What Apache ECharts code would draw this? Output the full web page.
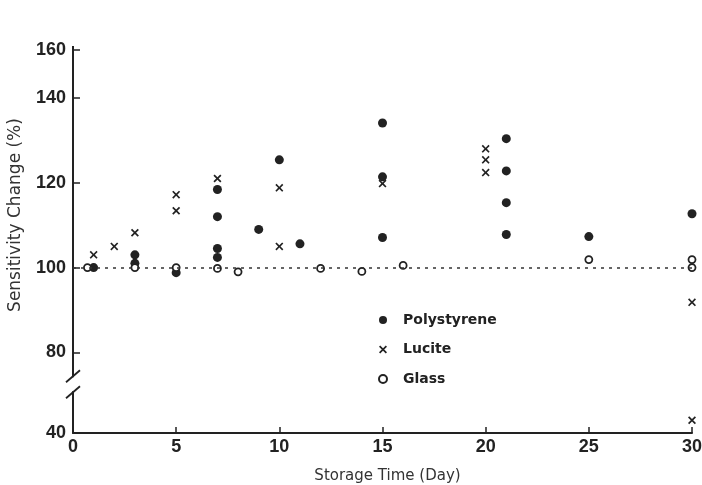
<!DOCTYPE html>
<html><head><meta charset="utf-8">
<script src="https://cdn.jsdelivr.net/npm/echarts@6/dist/echarts.min.js"></script>
<style>html,body{margin:0;padding:0;background:#fff}#c{width:702px;height:485px}</style>
</head><body><div id="c"></div>
<script>
const xTicks = [0, 5, 10, 15, 20, 25, 30];
const yTicks = [40, 80, 100, 120, 140, 160];
const polystyrene = [[1,100],[3,103],[3,101],[5,98.8],[7,118.4],[7,112],[7,104.5],[7,102.4],[9,109],[10,125.4],[11,105.6],[15,134.1],[15,121.4],[15,107.1],[21,130.4],[21,122.8],[21,115.3],[21,107.8],[25,107.3],[30,112.7]];
const lucite = [[1,103],[2,105],[3,108.2],[5,117.2],[5,113.4],[7,121],[10,118.8],[10,105],[15,119.8],[20,128],[20,125.4],[20,122.4],[30,91.8],[30,43]];
const glass = [[0.7,100],[3,100],[5,100],[7,99.8],[8,99],[12,99.8],[14,99.1],[16,100.5],[25,101.9],[30,101.9],[30,100]];
const baseline = 100;

const ink = '#222';
const tickFont = "'Liberation Sans Narrow','Liberation Sans',sans-serif";
const XPATH = 'path://M0,1.5L1.5,0L5,3.5L8.5,0L10,1.5L6.5,5L10,8.5L8.5,10L5,6.5L1.5,10L0,8.5L3.5,5Z';

const chart = echarts.init(document.getElementById('c'), null, {renderer: 'canvas'});
const option = {
  backgroundColor: '#fff',
  animation: false,
  grid: {left: 73, right: 10, top: 50, bottom: 52, containLabel: false, outerBoundsMode: 'none'},
  xAxis: {
    type: 'value', min: 0, max: 30, interval: 5,
    axisLine: {show: true, lineStyle: {color: ink, width: 2}},
    axisTick: {show: true, inside: true, length: 6, lineStyle: {color: ink, width: 1.5}, customValues: xTicks},
    axisLabel: {color: ink, fontFamily: tickFont, fontSize: 18, fontWeight: 'bold', margin: 5, customValues: xTicks},
    splitLine: {show: false},
    name: 'Storage Time (Day)', nameLocation: 'middle', nameGap: 36,
    nameTextStyle: {color: '#333', fontFamily: 'DejaVu Sans', fontSize: 15, padding: [0, 0, 0, 10]}
  },
  yAxis: {
    type: 'value', min: 40, max: 160, interval: 20,
    breaks: [{start: 48, end: 76, gap: 7}, {start: 141, end: 159, gap: 9.3}],
    breakArea: {show: false, itemStyle: {opacity: 0, borderWidth: 0}},
    axisLine: {show: true, lineStyle: {color: ink, width: 2}},
    axisTick: {show: true, inside: true, length: 7, lineStyle: {color: ink, width: 1.5}, customValues: yTicks},
    axisLabel: {color: ink, fontFamily: tickFont, fontSize: 18, fontWeight: 'bold', margin: 7, customValues: yTicks},
    splitLine: {show: false}
  },
  legend: {
    orient: 'vertical', left: 373, top: 307, itemGap: 13.5,
    itemWidth: 30, itemHeight: 8,
    textStyle: {color: ink, fontFamily: 'DejaVu Sans', fontSize: 14, fontWeight: 'bold', lineHeight: 16},
    data: ['Polystyrene', 'Lucite', 'Glass']
  },
  series: [
    {
      name: 'Polystyrene', type: 'scatter', data: polystyrene,
      symbol: 'circle', symbolSize: 9,
      itemStyle: {color: ink, opacity: 1}, z: 3,
      markLine: {
        silent: true, symbol: ['none', 'none'], label: {show: false},
        lineStyle: {color: '#333', width: 1.5, type: [3, 5]},
        data: [{yAxis: baseline}]
      }
    },
    {
      name: 'Lucite', type: 'scatter', data: lucite,
      symbol: XPATH, symbolSize: 8,
      itemStyle: {color: ink, opacity: 1}, z: 3
    },
    {
      name: 'Glass', type: 'scatter', data: glass,
      symbol: 'circle', symbolSize: 7,
      itemStyle: {color: '#fff', borderColor: ink, borderWidth: 1.8, opacity: 1}, z: 4
    }
  ]
};
chart.setOption(option);

// axis line through the breaks, and slash marks for the lower break
const px = (v) => chart.convertToPixel({gridIndex: 0}, [0, v]);
const p160 = px(160), p140 = px(140), pTop = px(76), pBot = px(48);
const x0 = pTop[0];
const mid = (pTop[1] + pBot[1]) / 2;
const y1 = mid - 8, y2 = mid + 8;
chart.setOption({
  graphic: [
    {type: 'line', shape: {x1: x0, y1: p160[1] - 4, x2: x0, y2: p140[1]}, style: {stroke: ink, lineWidth: 2}, z: 10},
    {type: 'line', shape: {x1: x0, y1: pTop[1], x2: x0, y2: pBot[1]}, style: {stroke: ink, lineWidth: 2}, z: 10},
    {type: 'rect', shape: {x: x0 - 3, y: y1 + 1, width: 6, height: y2 - y1 - 2}, style: {fill: '#fff'}, z: 11},
    {type: 'line', shape: {x1: x0 - 7, y1: y1 + 6, x2: x0 + 7, y2: y1 - 6}, style: {stroke: ink, lineWidth: 1.8}, z: 12},
    {type: 'line', shape: {x1: x0 - 7, y1: y2 + 6, x2: x0 + 7, y2: y2 - 6}, style: {stroke: ink, lineWidth: 1.8}, z: 12},
    {type: 'text', x: 16, y: 215, rotation: Math.PI / 2,
     style: {text: 'Sensitivity Change (%)', fill: '#333', font: '17px "DejaVu Sans"', align: 'center', verticalAlign: 'middle'}}
  ]
});
</script>
</body></html>
